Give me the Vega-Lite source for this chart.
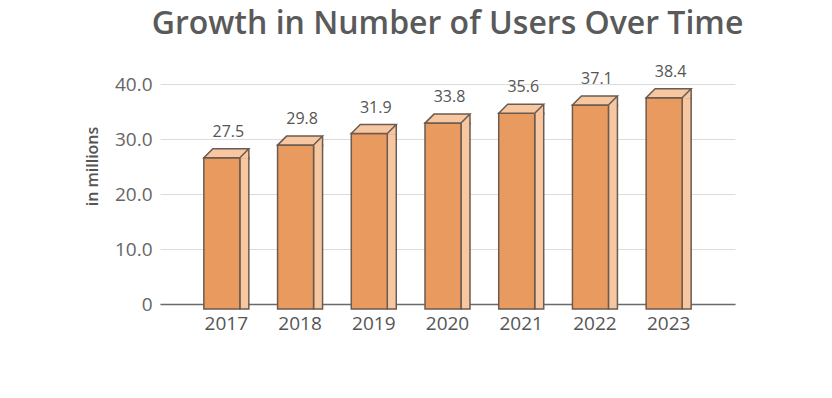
{
  "$schema": "https://vega.github.io/schema/vega-lite/v6.json",
  "width": 575,
  "height": 220,
  "autosize": {"type": "none"},
  "padding": {"left": 160, "top": 84, "right": 97, "bottom": 94},
  "background": "white",
  "title": {
    "text": "Growth in Number of Users Over Time",
    "font": "Open Sans",
    "fontSize": 32,
    "fontWeight": 600,
    "color": "#5a5a5a",
    "anchor": "middle",
    "offset": 23
  },
  "data": {
    "values": [
      {"year": "2017", "users": 27.5},
      {"year": "2018", "users": 29.8},
      {"year": "2019", "users": 31.9},
      {"year": "2020", "users": 33.8},
      {"year": "2021", "users": 35.6},
      {"year": "2022", "users": 37.1},
      {"year": "2023", "users": 38.4}
    ]
  },
  "encoding": {
    "x": {
      "field": "year",
      "type": "ordinal",
      "scale": {"paddingInner": 0.5, "paddingOuter": 0.65},
      "axis": {
        "title": null,
        "labelAngle": 0,
        "ticks": false,
        "labelPadding": 10,
        "labelFont": "Open Sans",
        "labelFontSize": 19,
        "labelColor": "#555555",
        "domainColor": "#6a6a6a",
        "domainWidth": 1.5,
        "grid": false
      }
    },
    "y": {
      "field": "users",
      "type": "quantitative",
      "scale": {"domain": [0, 40], "nice": false},
      "axis": {
        "title": "in millions",
        "titleFont": "Open Sans",
        "titleFontSize": 16,
        "titleFontWeight": 600,
        "titleColor": "#555555",
        "titleX": -68,
        "titleY": 82,
        "titleAngle": -90,
        "titleAlign": "center",
        "titleBaseline": "middle",
        "values": [0, 10, 20, 30, 40],
        "labelExpr": "datum.value === 0 ? '0' : format(datum.value, '.1f')",
        "labelFont": "Open Sans",
        "labelFontSize": 19,
        "labelColor": "#666666",
        "labelPadding": 8,
        "ticks": false,
        "domain": false,
        "grid": true,
        "gridColor": "#dcdcdc",
        "gridWidth": 1
      }
    }
  },
  "layer": [
    {
      "mark": {
        "type": "bar",
        "width": 9,
        "xOffset": 18,
        "yOffset": 5,
        "y2Offset": 0,
        "fill": "#f7c7a2",
        "stroke": "#6b5b50",
        "strokeWidth": 1.5
      }
    },
    {
      "mark": {
        "type": "bar",
        "width": 36,
        "xOffset": -4.5,
        "yOffset": 5,
        "y2Offset": 0,
        "fill": "#e99a5e",
        "stroke": "#6b5b50",
        "strokeWidth": 1.5
      }
    },
    {
      "mark": {
        "type": "point",
        "shape": "M -22.5 0 L -13.5 -9 L 22.5 -9 L 22.5 1 L 14.3 1 L 14.3 0 Z",
        "size": 4,
        "filled": true,
        "fill": "#f7c7a2",
        "strokeWidth": 0,
        "opacity": 1,
        "yOffset": 5
      }
    },
    {
      "mark": {
        "type": "point",
        "shape": "M -22.5 0 L 13.5 0 L 22.5 -9 L -13.5 -9 Z M 22.5 -9 L 22.5 1.5",
        "size": 4,
        "filled": false,
        "stroke": "#6b5b50",
        "strokeWidth": 1.5,
        "strokeJoin": "miter",
        "opacity": 1,
        "yOffset": 5
      }
    },
    {
      "mark": {
        "type": "text",
        "font": "Open Sans",
        "fontSize": 16,
        "color": "#555555",
        "baseline": "alphabetic",
        "dy": -16,
        "xOffset": 2
      },
      "encoding": {
        "text": {"field": "users", "type": "quantitative", "format": ".1f"}
      }
    }
  ],
  "config": {
    "view": {"stroke": null}
  }
}
